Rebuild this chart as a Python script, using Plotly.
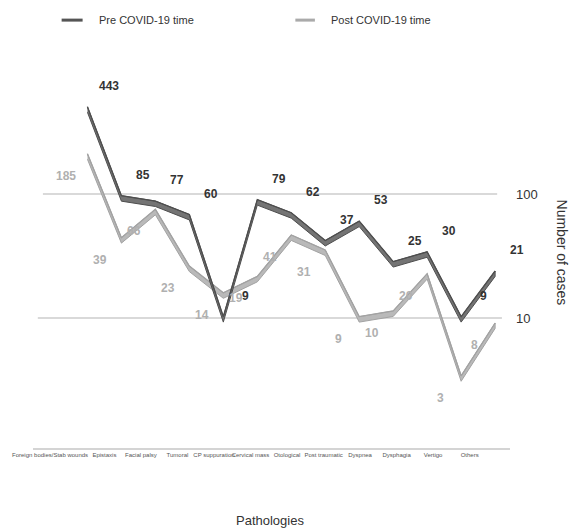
import numpy as np
import plotly.graph_objects as go

# ---- data ----
categories = ["Foreign bodies/Stab wounds", "Epistaxis", "Facial palsy", "Tumoral",
              "CP suppuration", "Cervical mass", "Otological", "Post traumatic",
              "Dyspnea", "Dysphagia", "Vertigo", "Others"]
pre_covid = [443, 85, 77, 60, 9, 79, 62, 37, 53, 25, 30, 9, 21]
post_covid = [185, 39, 66, 23, 14, 19, 41, 31, 9, 10, 20, 3, 8]
y_tick_vals = [10, 100]
y_tick_text = ["10", "100"]

FONT = "Liberation Sans, Arial, Helvetica, sans-serif"
xs = list(range(len(pre_covid)))

fig = go.Figure()


def ribbon(values, fill, edge):
    lo = [v * 1.03 for v in values]
    hi = [v * 1.14 for v in values]
    fig.add_trace(go.Scatter(
        x=xs + xs[::-1], y=lo + hi[::-1], mode="lines", fill="toself",
        fillcolor=fill, line=dict(color=edge, width=1.0),
        hoverinfo="skip", showlegend=False))
    fig.add_trace(go.Scatter(
        x=xs, y=hi, mode="lines", line=dict(color=edge, width=1.3),
        hoverinfo="skip", showlegend=False))


ribbon(post_covid, "#b9b9b9", "#a2a2a2")
ribbon(pre_covid, "#747474", "#4e4e4e")

# data labels
for i, v in enumerate(post_covid):
    fig.add_annotation(x=i, y=np.log10(v), text=str(v), showarrow=False,
                       xshift=-21, yshift=-15,
                       font=dict(family=FONT, size=12, color="#b0b0b0", weight="bold"))
for i, v in enumerate(pre_covid):
    fig.add_annotation(x=i, y=np.log10(v), text=str(v), showarrow=False,
                       xshift=22, yshift=28,
                       font=dict(family=FONT, size=12, color="#333333", weight="bold"))

# gridlines (light, slightly inset like the original)
fig.add_shape(type="line", xref="x", yref="y", x0=-1.31, x1=12.06,
              y0=y_tick_vals[1], y1=y_tick_vals[1],
              line=dict(color="#cccccc", width=1.6), layer="below")
fig.add_shape(type="line", xref="x", yref="y", x0=-1.46, x1=12.2,
              y0=y_tick_vals[0], y1=y_tick_vals[0],
              line=dict(color="#cccccc", width=1.6), layer="below")

# custom legend
fig.add_shape(type="line", xref="paper", yref="paper", x0=0.060, x1=0.104,
              y0=1.129, y1=1.129, line=dict(color="#555555", width=3))
fig.add_shape(type="line", xref="paper", yref="paper", x0=0.550, x1=0.591,
              y0=1.129, y1=1.129, line=dict(color="#aaaaaa", width=3))
fig.add_annotation(xref="paper", yref="paper", x=0.135, y=1.129, text="Pre COVID-19 time",
                   showarrow=False, xanchor="left", yanchor="middle",
                   font=dict(family=FONT, size=11, color="#333333"))
fig.add_annotation(xref="paper", yref="paper", x=0.620, y=1.129, text="Post COVID-19 time",
                   showarrow=False, xanchor="left", yanchor="middle",
                   font=dict(family=FONT, size=11, color="#333333"))

# axis titles
fig.add_annotation(xref="paper", yref="paper", x=0.496, y=-0.19, text="Pathologies",
                   showarrow=False, xanchor="center", yanchor="middle",
                   font=dict(family=FONT, size=13, color="#333333"))
fig.add_annotation(xref="paper", yref="paper", x=1.11, y=0.5145, text="Number of cases",
                   showarrow=False, textangle=90, xanchor="center", yanchor="middle",
                   font=dict(family=FONT, size=14, color="#333333"))

tick_pos = [-1.1] + [0.5 + 1.075 * k for k in range(len(categories) - 1)]

fig.update_layout(
    width=571, height=528,
    margin=dict(l=28, r=61, t=69, b=80),
    paper_bgcolor="white", plot_bgcolor="white",
    showlegend=False,
    xaxis=dict(range=[-1.602, 12.438], tickmode="array", tickvals=tick_pos,
               ticktext=categories, tickangle=0, showgrid=False, zeroline=False,
               showline=True, linecolor="#d4d4d4", linewidth=2, ticks="",
               tickfont=dict(family=FONT, size=6, color="#555555")),
    yaxis=dict(type="log", range=[-0.048, 3.008], side="right", tickmode="array",
               tickvals=y_tick_vals, ticktext=y_tick_text, showgrid=False,
               zeroline=False, showline=False, ticks="", ticklabelstandoff=5,
               tickfont=dict(family=FONT, size=13, color="#333333")),
)

fig.write_html("out.html")
